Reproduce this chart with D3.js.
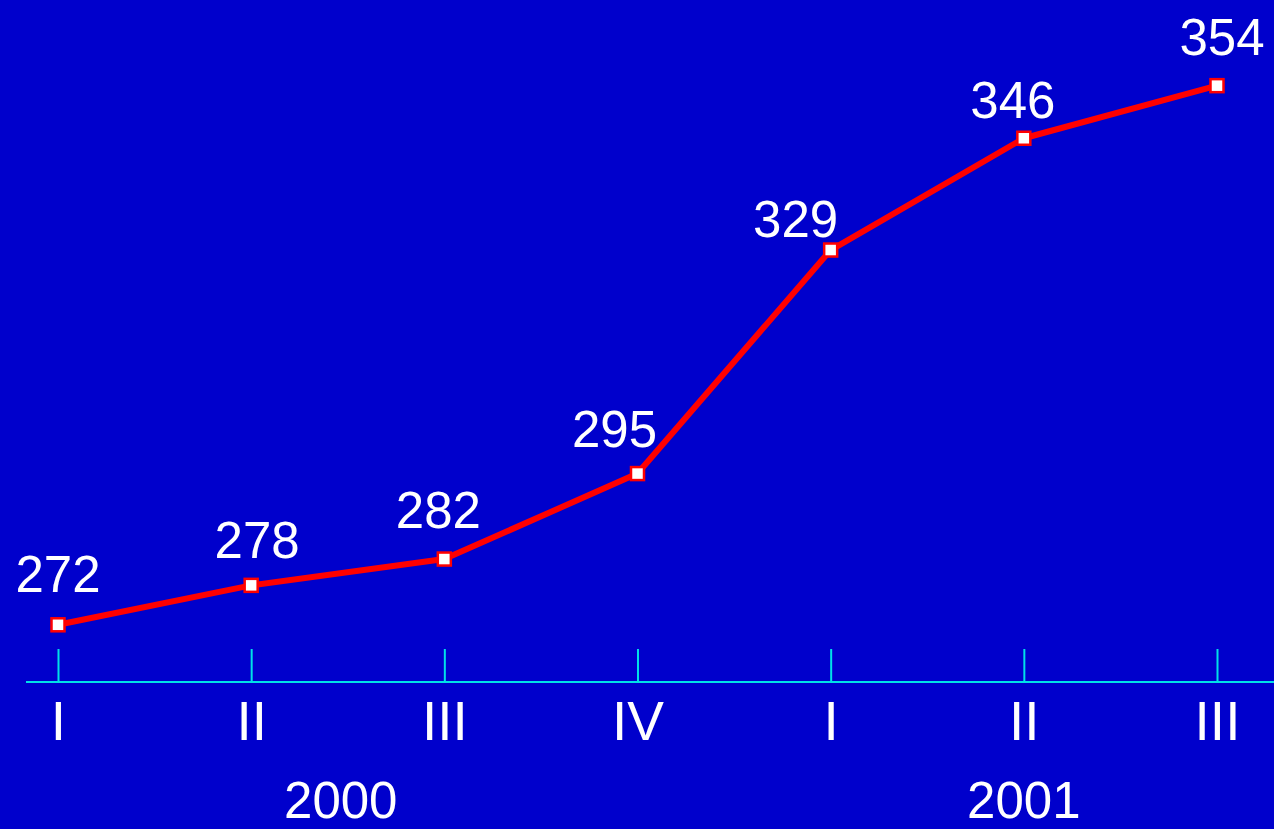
<!DOCTYPE html>
<html><head><meta charset="utf-8">
<script src="https://cdn.jsdelivr.net/npm/d3@7/dist/d3.min.js"></script>
<style>html,body{margin:0;padding:0;background:#0000CC;overflow:hidden}</style>
</head><body>
<svg id="c" width="1274" height="829"></svg>
<script>
const quarters = ["I","II","III","IV","I","II","III"];
const values = [272, 278, 282, 295, 329, 346, 354];
const years = ["2000","2001"];
const yearSpans = [[0,3],[4,6]];

// layout nudges for value labels (pixels, relative to each point)
const labelDx = [0, 6, -6, -23, -35, -11, 5];
const labelDy = [-33, -27, -31, -27, -13, -20, -31];
const yearDx = [-7, 0];

const W = 1274, H = 829;
const svg = d3.select("#c");
svg.append("rect").attr("width",W).attr("height",H).attr("fill","#0000CC");

const x = d3.scalePoint().domain(d3.range(values.length)).range([58,1217]);
const y = d3.scaleLinear().domain([263.3,354.1]).range([682,85]);

const font = "Liberation Sans, Arial, sans-serif";
const axisY = 682;
const xAxis = d3.axisBottom(x).tickSize(0).tickFormat(i=>quarters[i]).tickPadding(0);
const ag = svg.append("g").attr("transform",`translate(0,${axisY})`).call(xAxis);
ag.select(".domain").remove();
ag.selectAll(".tick text").attr("fill","#fff").attr("font-family",font)
  .attr("font-size",55).attr("dy",0).attr("y",58);
ag.append("line").attr("x1",26).attr("x2",W).attr("y1",0).attr("y2",0).attr("stroke","#00E0E8").attr("stroke-width",2);
ag.selectAll(".tick").append("line").attr("y1",-33).attr("y2",0).attr("stroke","#00E0E8").attr("stroke-width",2);

svg.selectAll(".yr").data(years).join("text").attr("class","yr")
  .attr("x",(d,i)=>(x(yearSpans[i][0])+x(yearSpans[i][1]))/2 + yearDx[i])
  .attr("y",818).attr("text-anchor","middle").attr("fill","#fff")
  .attr("font-family",font).attr("font-size",51).text(d=>d);

const line = d3.line().x((d,i)=>x(i)).y(d=>y(d));
svg.append("path").datum(values).attr("d",line).attr("fill","none")
  .attr("stroke","#FF0000").attr("stroke-width",6).attr("stroke-linejoin","round");

svg.selectAll(".mk").data(values).join("rect").attr("class","mk")
  .attr("x",(d,i)=>x(i)-6.5).attr("y",d=>y(d)-6.5).attr("width",13).attr("height",13)
  .attr("fill","#fff").attr("stroke","#FF0000").attr("stroke-width",2.5);

svg.selectAll(".lbl").data(values).join("text").attr("class","lbl")
  .attr("x",(d,i)=>x(i)+labelDx[i]).attr("y",(d,i)=>y(d)+labelDy[i])
  .attr("text-anchor","middle").attr("fill","#fff")
  .attr("font-family",font).attr("font-size",51).text(d=>d);
</script>
</body></html>
